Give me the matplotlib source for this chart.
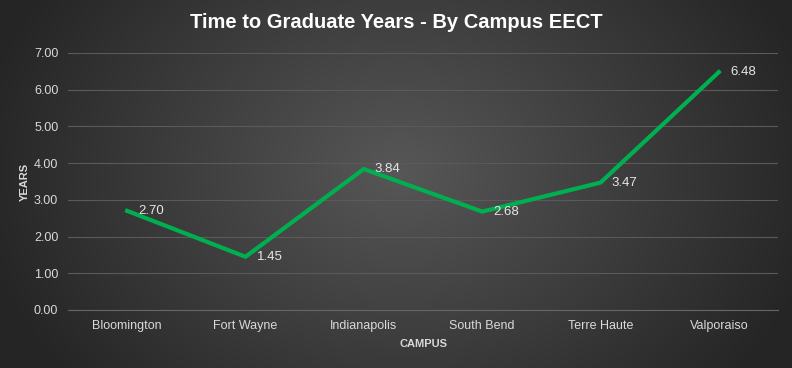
import numpy as np
import matplotlib
matplotlib.use("Agg")
import matplotlib.pyplot as plt

campuses = ["Bloomington", "Fort Wayne", "Indianapolis", "South Bend", "Terre Haute", "Valporaiso"]
years = [2.70, 1.45, 3.84, 2.68, 3.47, 6.48]
yticks = [0, 1, 2, 3, 4, 5, 6, 7]

plt.rcParams['font.family'] = ['Liberation Sans', 'DejaVu Sans']

fig = plt.figure(figsize=(7.92, 3.68), dpi=100)

# radial gradient background
bg = fig.add_axes([0, 0, 1, 1], zorder=-10)
h, w = 368, 792
yy, xx = np.mgrid[0:h, 0:w]
cx, cy = 400, 170
r = np.sqrt(((xx - cx) / 430.0) ** 2 + ((yy - cy) / 330.0) ** 2)
r = np.clip(r, 0, 1)
inner = np.array([0x57, 0x57, 0x57]) / 255.0
outer = np.array([0x25, 0x25, 0x25]) / 255.0
img = inner[None, None, :] * (1 - r[..., None]) + outer[None, None, :] * r[..., None]
bg.imshow(img, aspect='auto', extent=[0, 1, 0, 1], origin='upper')
bg.axis('off')

ax = fig.add_axes([68 / 792, 1 - 310 / 368, 710 / 792, 257 / 368])
ax.patch.set_alpha(0)
x = np.arange(len(campuses))
ax.plot(x, years, color='#00b050', lw=3.0, solid_joinstyle='miter', zorder=3)
for xi, yi in zip(x, years):
    ax.annotate(f"{yi:.2f}", (xi, yi), xytext=(8, 0), textcoords='offset points',
                ha='left', va='center', color='#e6e6e6', fontsize=9.5, zorder=4)

ax.set_xlim(-0.5, len(campuses) - 0.5)
ax.set_ylim(0, 7)
ax.set_yticks(yticks)
ax.set_yticklabels([f"{t:.2f}" for t in yticks])
ax.set_xticks(x)
ax.set_xticklabels(campuses)
ax.tick_params(axis='both', length=0, colors='#d9d9d9', labelsize=9)
ax.tick_params(axis='y', pad=7)
ax.tick_params(axis='x', pad=7)
ax.grid(axis='y', color='#5a5a5a', lw=0.8)
ax.set_axisbelow(True)
for s in ['top', 'right', 'left']:
    ax.spines[s].set_visible(False)
ax.spines['bottom'].set_color('#666666')
ax.spines['bottom'].set_linewidth(0.8)

ax.set_xlabel("CAMPUS", color='#d9d9d9', fontsize=8, fontweight='bold', labelpad=5)
ax.set_ylabel("YEARS", color='#d9d9d9', fontsize=8, fontweight='bold', labelpad=3)

fig.text(0.5, 1 - 22 / 368, "Time to Graduate Years - By Campus EECT", ha='center', va='center',
         color='white', fontsize=14.5, fontweight='bold')

fig.savefig("out.png", dpi=100)
